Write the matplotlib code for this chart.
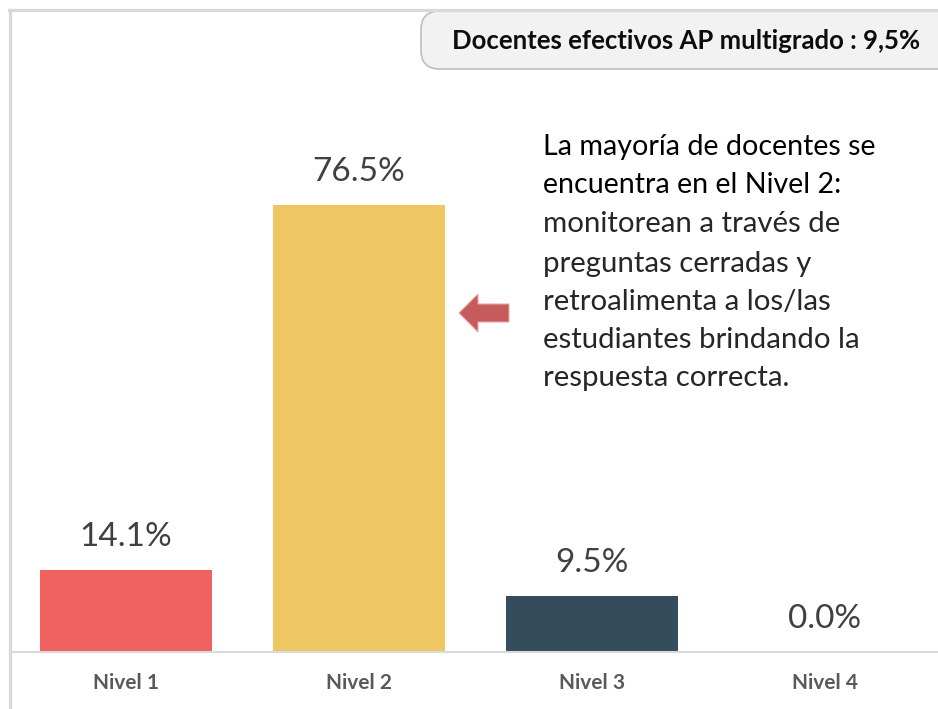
import matplotlib
matplotlib.use("Agg")
import matplotlib.pyplot as plt
from matplotlib.patches import FancyBboxPatch, Polygon
from matplotlib.lines import Line2D

categories = ["Nivel 1", "Nivel 2", "Nivel 3", "Nivel 4"]
values = [14.1, 76.5, 9.5, 0.0]
colors = ["#F06160", "#EEC662", "#354C5D", "#A5A5A5"]
box_text = "Docentes efectivos AP multigrado : 9,5%"
head_lines = ["La mayoría de docentes se", "encuentra en el Nivel 2:"]
body_lines = ["monitorean a través de", "preguntas cerradas y", "retroalimenta a los/las",
              "estudiantes brindando la", "respuesta correcta."]

W, H = 938, 709
fig = plt.figure(figsize=(W / 100, H / 100), dpi=100)
fig.patch.set_facecolor("white")

def fx(x):
    return x / W

def fy(y):
    return 1 - y / H

FONT = "Lato"

ax = fig.add_axes([fx(9.5), fy(652), fx(932), (652 - 9) / H])
x = range(len(categories))
ax.bar(x, values, width=0.74, color=colors, zorder=2)
ax.set_xlim(-0.5, 3.5)
ax.set_ylim(0, 110)
ax.set_yticks([])
ax.set_xticks(list(x))
ax.set_xticklabels(categories, fontsize=15, fontweight="bold", color="#595959", family=FONT)
ax.tick_params(axis="x", length=0, pad=15)
for s in ["left", "right", "top"]:
    ax.spines[s].set_visible(False)
ax.spines["bottom"].set_color("#D9D9D9")
ax.spines["bottom"].set_linewidth(1.5)
ax.set_facecolor("none")

for i, v in enumerate(values):
    ax.annotate(f"{v:.1f}%", (i, v), xytext=(0, 13), textcoords="offset points",
                ha="center", va="bottom", fontsize=24, color="#404040", family=FONT)

# outer frame (left & top)
fig.add_artist(Line2D([fx(9.5), fx(9.5)], [0, fy(9.5)], color="#D9D9D9", lw=2.3))
fig.add_artist(Line2D([fx(8.5), 1], [fy(9.5), fy(9.5)], color="#D9D9D9", lw=2.3))

# rounded box
box = FancyBboxPatch((fx(421), fy(69)), fx(560), (69 - 11) / H,
                     boxstyle="round,pad=0,rounding_size=0.02",
                     transform=fig.transFigure, facecolor="#F2F2F2",
                     edgecolor="#BFBFBF", lw=1.2, mutation_aspect=W / H)
fig.add_artist(box)
fig.text(fx(686), fy(41), box_text, ha="center", va="center", fontsize=18.5,
         fontweight="bold", color="#0D0D0D", family=FONT)

# annotation text
ys = [147, 185, 224, 264, 302, 340, 378]
for t, y in zip(head_lines, ys[:2]):
    fig.text(fx(543), fy(y), t, ha="left", va="center", fontsize=20.6, color="#000000", family=FONT)
for t, y in zip(body_lines, ys[2:]):
    fig.text(fx(543), fy(y), t, ha="left", va="center", fontsize=21.2, color="#262626", family=FONT)

# arrow
pts = [(459, 313), (478, 294), (478, 304), (509, 304), (509, 322), (478, 322), (478, 332)]
arrow = Polygon([(fx(px), fy(py)) for px, py in pts], closed=True, transform=fig.transFigure,
                facecolor="#C65B5B", edgecolor="#E8A8A8", lw=0.8)
fig.add_artist(arrow)

fig.savefig("out.png", dpi=100)
